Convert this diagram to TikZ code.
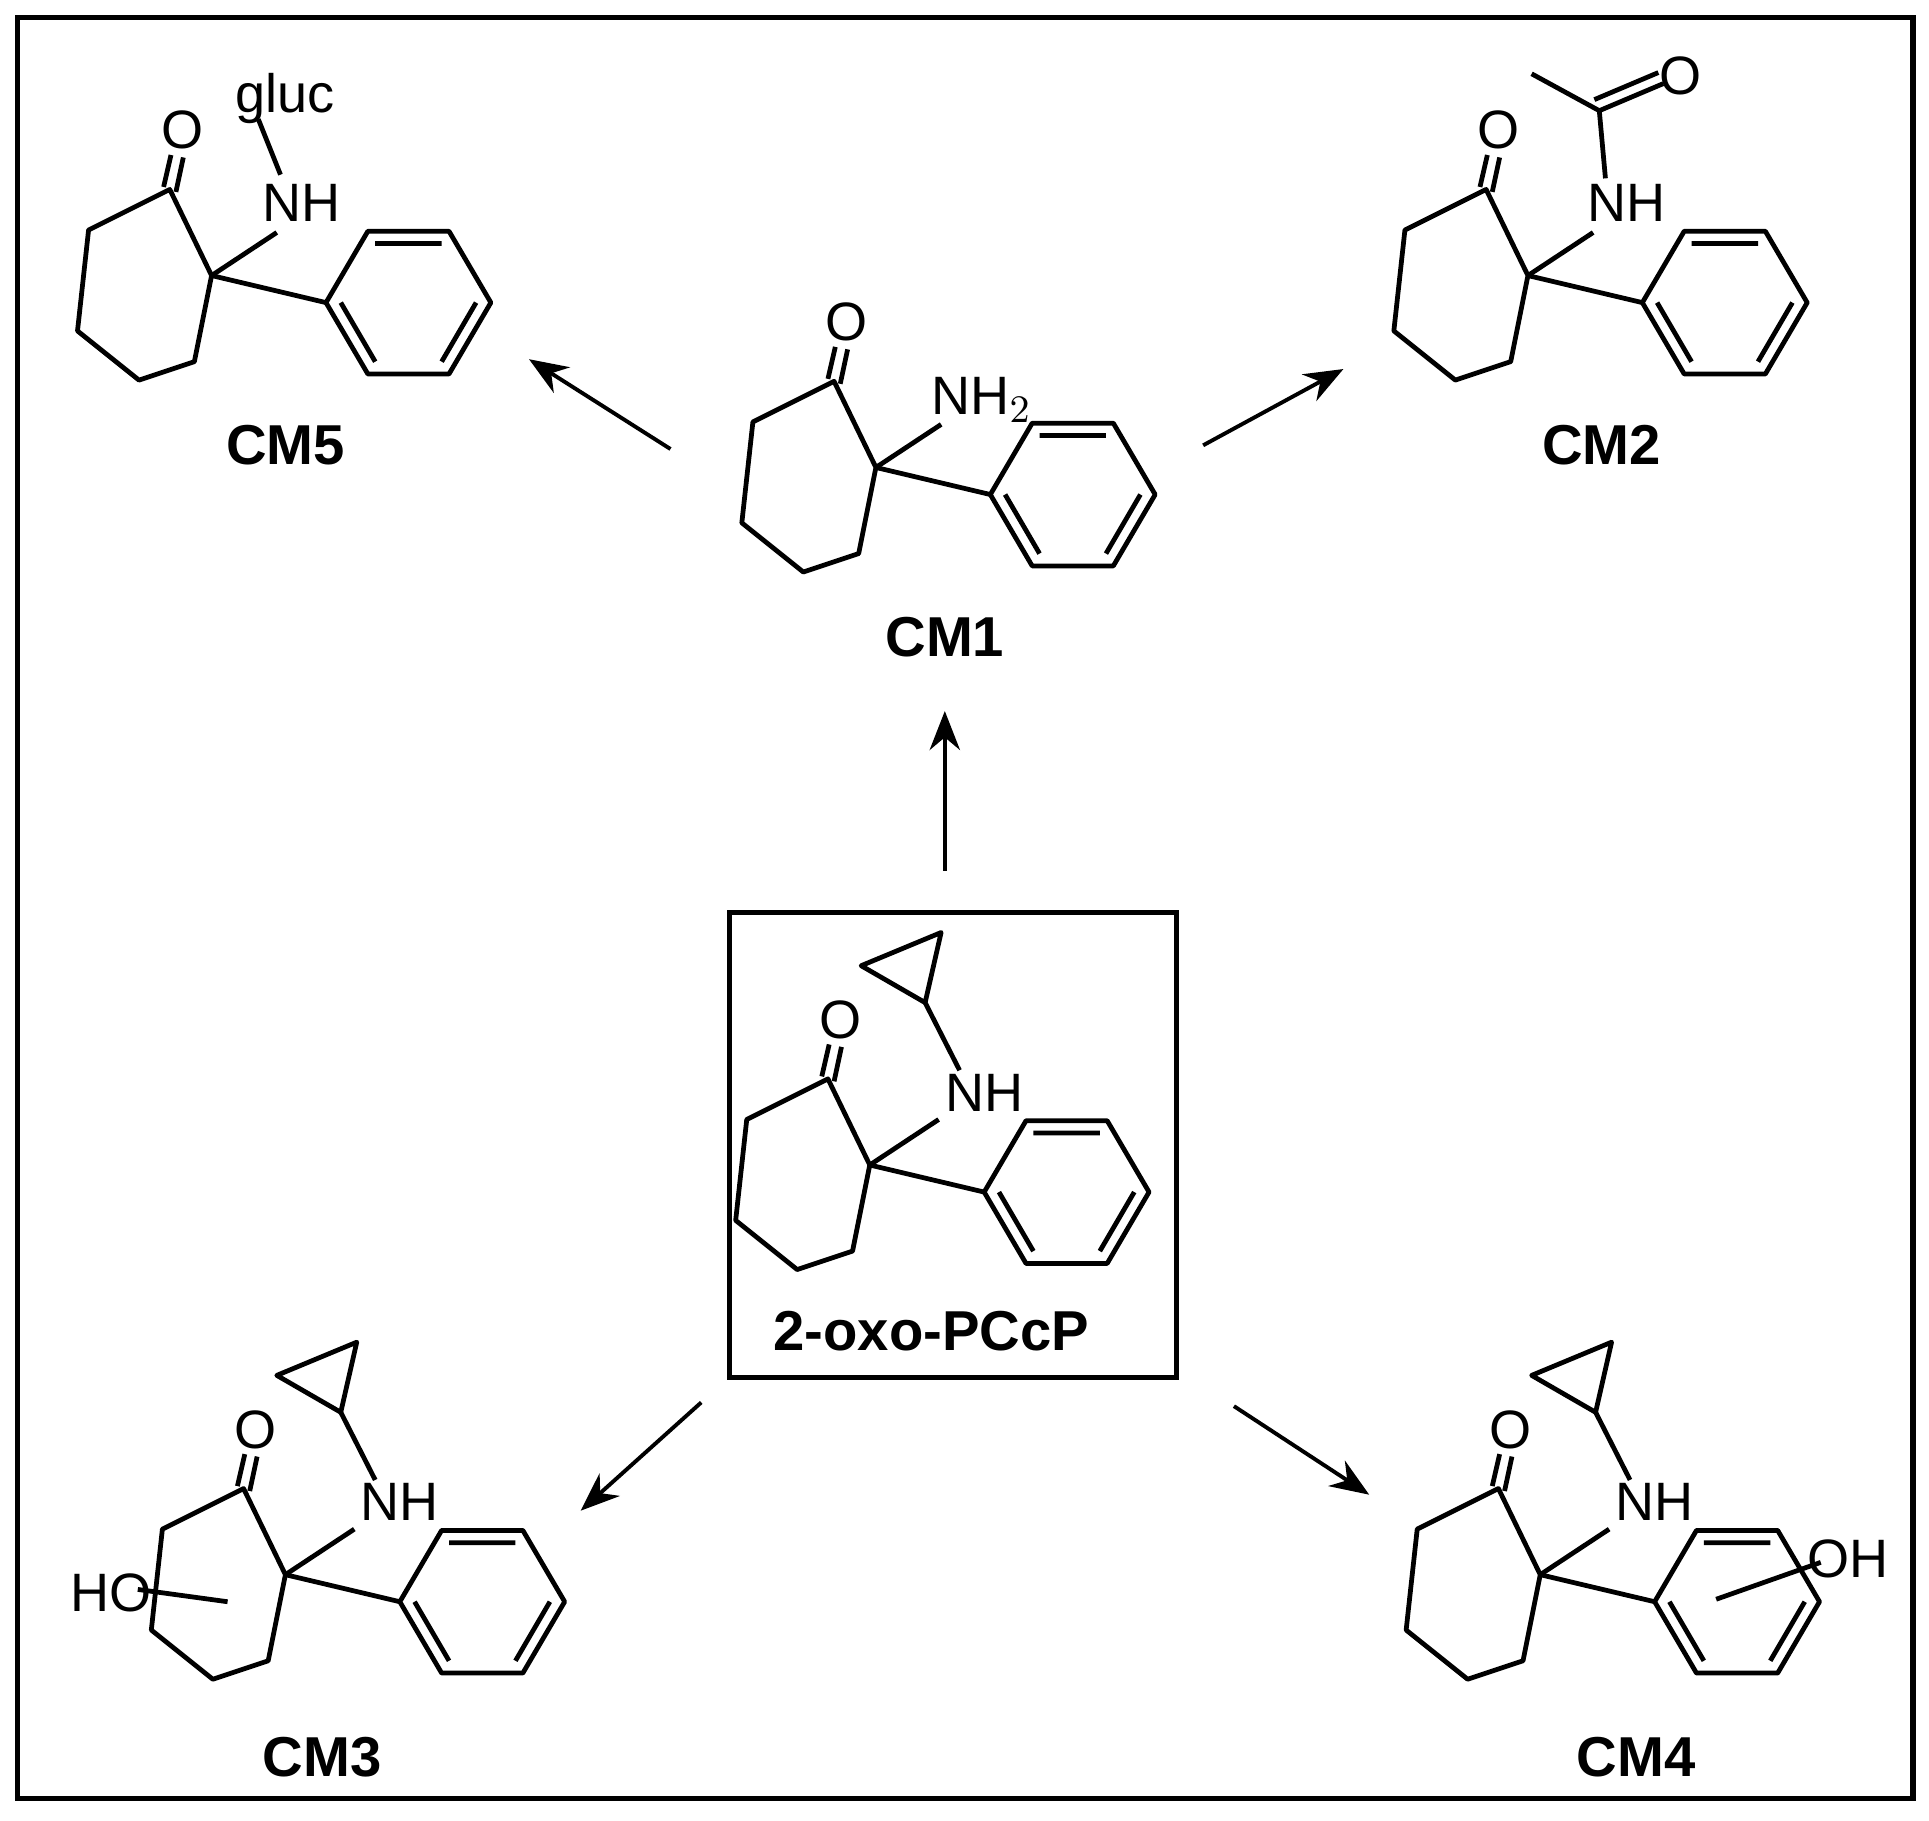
\documentclass[tikz,border=0pt]{standalone}
\usepackage{fontspec}
\usetikzlibrary{arrows.meta}
\setmainfont{Liberation Sans}
\tikzset{bond/.style={line width=1.1pt,line join=round},
 atom/.style={font=\fontsize{12.5}{14}\selectfont,inner sep=0pt},
 lab/.style={font=\fontsize{13}{15}\selectfont\bfseries,inner sep=0pt},
 arr/.style={line width=0.9pt,-{Stealth[length=9pt,width=7pt]}}}
\newcommand{\corering}{%
 \draw[bond] (678,310)--(712,380)--(698,450)--(653,465)--(603,425)--(612,343)--cycle;
 \draw[bond] (673,308)--(679,282) (683,312)--(689,284);
 \node[atom] at (688,262) {O};
 \draw[bond] (712,380)--(805,402);
 \draw[bond] (939,402)--(905,344)--(839,344)--(805,402)--(839,460)--(905,460)--cycle;
 \draw[bond] (845,354)--(899,354) (927,402)--(899,450) (817,402)--(845,450);
}
\newcommand{\cycpro}{%
 \draw[bond] (712,380)--(768,343);
 \node[atom] at (805,321) {NH};
 \draw[bond] (785,303)--(757,248);
 \draw[bond] (705,218)--(770,191)--(757,248)--cycle;
}
\begin{document}
\begin{tikzpicture}[x=0.01cm,y=-0.01cm]
\useasboundingbox (0,0) rectangle (1568,1480);
\draw[line width=1.2pt] (14,14) rectangle (1555,1462);
% CM1
\begin{scope}
\corering
\draw[bond] (712,380)--(765,345);
\node[atom] at (798,325) {NH$_2$};
\end{scope}
\node[lab] (cm1) at (768,518) {CM1};
% CM5
\begin{scope}[shift={(-540,-156)}]
\corering
\draw[bond] (712,380)--(765,345);
\node[atom] at (785,321) {NH};
\draw[bond] (768,298)--(750,253);
\node[atom] at (772,236) {gluc};
\end{scope}
\node[lab] (cm5) at (232,362) {CM5};
% CM2
\begin{scope}[shift={(530,-156)}]
\corering
\draw[bond] (712,380)--(765,345);
\node[atom] at (792,321) {NH};
\draw[bond] (775,301)--(770,246);
\draw[bond] (715,216)--(770,246);
\draw[bond] (770,246)--(822,224) (766,237)--(818,215);
\node[atom] at (836,218) {O};
\end{scope}
\node[lab] (cm2) at (1302,362) {CM2};
% center
\draw[line width=1.2pt] (593,742) rectangle (956,1120);
\begin{scope}[shift={(-5,567)}]
\corering
\cycpro
\end{scope}
\node[lab] (p) at (757,1082) {2-oxo-PCcP};
% CM3
\begin{scope}[shift={(-480,900)}]
\corering
\cycpro
\node[atom] at (570,395) {HO};
\draw[bond] (592,392)--(665,402);
\end{scope}
\node[lab] (cm3) at (262,1428) {CM3};
% CM4
\begin{scope}[shift={(540,900)}]
\corering
\cycpro
\node[atom] at (962,367) {OH};
\draw[bond] (855,400)--(940,370);
\end{scope}
\node[lab] (cm4) at (1330,1428) {CM4};
% arrows
\coordinate (a1) at (768,708); \coordinate (b1) at (768,578);
\coordinate (a2) at (545,365); \coordinate (b2) at (430,292);
\coordinate (a3) at (978,362); \coordinate (b3) at (1092,300);
\coordinate (a4) at (570,1140); \coordinate (b4) at (472,1228);
\coordinate (a5) at (1003,1143); \coordinate (b5) at (1113,1215);
\foreach \i in {1,...,5}{\draw[arr] (a\i)--(b\i);}
\end{tikzpicture}
\end{document}
